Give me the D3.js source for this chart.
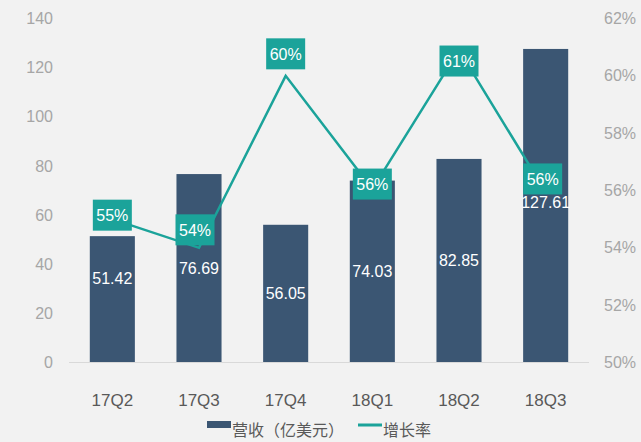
<!DOCTYPE html>
<html><head><meta charset="utf-8">
<script src="https://cdn.jsdelivr.net/npm/d3@7"></script>
<style>
html,body{margin:0;padding:0;background:#f2f2f2;}
svg{display:block;font-family:"Liberation Sans",Arial,sans-serif;}
</style></head>
<body><svg id="c" width="641" height="442"></svg>
<script>
const categories = ["17Q2","17Q3","17Q4","18Q1","18Q2","18Q3"];
const revenue = [51.42, 76.69, 56.05, 74.03, 82.85, 127.61];
const growth = [55.0, 54.0, 60.0, 56.05, 60.9, 55.95];
const leftTicks = [0,20,40,60,80,100,120,140];
const rightTicks = [50,52,54,56,58,60,62];
const seriesNames = ["营收（亿美元）","增长率"];

// label placement config (offsets from the point, px)
const growthLabelDx = [0,-4,0,0,0,-3];
const growthLabelDy = [-4,-18,-22,-5,11,-13];
const revLabelDy = [-21,0,0,0,0,-3];

const barColor = "#3b5673", lineColor = "#1ba39a";
const svg = d3.select("#c");
svg.append("rect").attr("width",641).attr("height",442).attr("fill","#f2f2f2");

const x = d3.scaleBand().domain(categories).range([69,589]).paddingInner(0.48).paddingOuter(0.24);
const yL = d3.scaleLinear().domain([0,140]).range([362.5,18.5]);
const yR = d3.scaleLinear().domain([50,62]).range([362.5,18.5]);

// left axis
const gL = svg.append("g").attr("transform","translate(53,0)")
  .call(d3.axisLeft(yL).tickValues(leftTicks).tickSize(0).tickPadding(0));
gL.select(".domain").remove();
gL.selectAll("text").attr("fill","#a6a6a6").style("font-size","16px").attr("font-family","Liberation Sans, Arial, sans-serif");

// right axis
const gR = svg.append("g").attr("transform","translate(604,0)")
  .call(d3.axisRight(yR).tickValues(rightTicks).tickSize(0).tickPadding(0).tickFormat(d=>d+"%"));
gR.select(".domain").remove();
gR.selectAll("text").attr("fill","#a6a6a6").style("font-size","16px").attr("font-family","Liberation Sans, Arial, sans-serif");

// bars
svg.append("g").selectAll("rect").data(categories).join("rect")
  .attr("x",d=>x(d)).attr("width",x.bandwidth())
  .attr("y",(d,i)=>yL(revenue[i])).attr("height",(d,i)=>yL(0)-yL(revenue[i]))
  .attr("fill",barColor);

// baseline
svg.append("line").attr("x1",69).attr("x2",589).attr("y1",yL(0)).attr("y2",yL(0))
  .attr("stroke","#d9d9d9").attr("stroke-width",1);

// category axis
const gX = svg.append("g").attr("transform","translate(0,"+yL(0)+")")
  .call(d3.axisBottom(x).tickSize(0).tickPadding(31));
gX.select(".domain").remove();
gX.selectAll("text").attr("fill","#595959").style("font-size","17px").attr("font-family","Liberation Sans, Arial, sans-serif");

// bar labels
svg.append("g").selectAll("text").data(categories).join("text")
  .attr("x",d=>x(d)+x.bandwidth()/2)
  .attr("y",(d,i)=>(yL(revenue[i])+yL(0))/2 + revLabelDy[i])
  .attr("dy","0.35em").attr("text-anchor","middle")
  .attr("fill","#ffffff").style("font-size","16px")
  .text((d,i)=>revenue[i].toFixed(2));

// line
const line = d3.line().x((d,i)=>x(categories[i])+x.bandwidth()/2).y(d=>yR(d));
svg.append("path").datum(growth).attr("d",line).attr("fill","none")
  .attr("stroke",lineColor).attr("stroke-width",2.5).attr("stroke-linejoin","miter");

// growth labels
const gl = svg.append("g").selectAll("g").data(growth).join("g")
  .attr("transform",(d,i)=>`translate(${x(categories[i])+x.bandwidth()/2+growthLabelDx[i]},${yR(d)+growthLabelDy[i]})`);
gl.append("rect").attr("x",-19.5).attr("y",-15.5).attr("width",39).attr("height",31).attr("fill",lineColor);
gl.append("text").attr("text-anchor","middle").attr("dy","0.36em").attr("fill","#ffffff")
  .style("font-size","16px").text(d=>d3.format(".0f")(d)+"%");

// legend
const lg = svg.append("g").style("font-family","'Noto Sans CJK SC',sans-serif");
lg.append("rect").attr("x",207).attr("y",421).attr("width",24).attr("height",7).attr("fill",barColor);
lg.append("text").attr("x",232).attr("y",431).attr("dy","0.3em").attr("fill","#595959").style("font-size","16px").text(seriesNames[0]);
lg.append("line").attr("x1",358).attr("x2",382).attr("y1",425).attr("y2",425).attr("stroke",lineColor).attr("stroke-width",3);
lg.append("text").attr("x",383).attr("y",431).attr("dy","0.3em").attr("fill","#595959").style("font-size","16px").text(seriesNames[1]);
</script></body></html>
